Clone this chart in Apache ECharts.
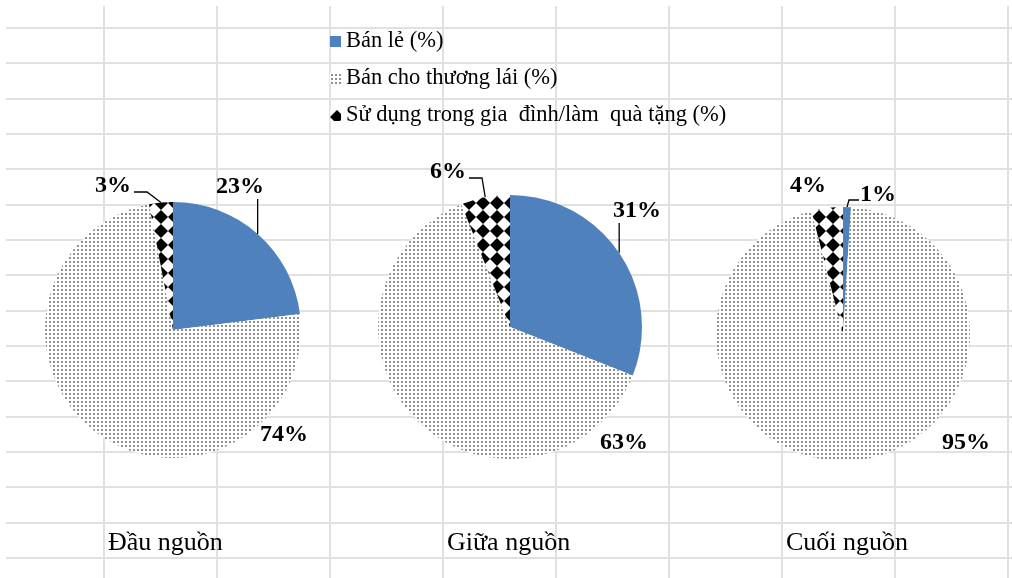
<!DOCTYPE html>
<html lang="vi">
<head>
    <meta charset="UTF-8">
    <title>Kênh tiêu thụ</title>
    <style>
        html, body { margin: 0; padding: 0; background: #fff; }
        #chart { width: 1012px; height: 578px; }
    </style>
</head>
<body>
    <div id="chart"></div>
    <script src="https://cdn.jsdelivr.net/npm/echarts@6/dist/echarts.min.js"></script>
    <script>
        // du lieu
        var categories = ['Đầu nguồn', 'Giữa nguồn', 'Cuối nguồn'];
        var seriesNames = ['Bán lẻ (%)', 'Bán cho thương lái (%)', 'Sử dụng trong gia  đình/làm  quà tặng (%)'];
        var banLe = [23, 31, 1];
        var banThuongLai = [74, 63, 95];
        var suDung = [3, 6, 4];

        // vi tri cac hinh tron
        var pieCenters = [[173, 330], [510, 327], [843, 334]];
        var pieRadius = [128, 132, 127];
        var titleLeft = [108, 447, 786];
        // vi tri nhan so voi tam hinh tron
        var labelOffsets = [
            [[67, -143], [111, 105], [-60, -144]],
            [[127, -116], [114, 116], [-62, -155]],
            [[35, -139], [123, 109], [-35, -148]]
        ];
        // kieu duong dan: v = thang dung, l = nhan ben trai, r = nhan ben phai
        var guideType = [['v', null, 'l'], ['v', null, 'l'], ['r', null, null]];

        var serif = '"Liberation Serif", "Times New Roman", serif';

        function dotPattern() {
            var c = document.createElement('canvas');
            c.width = 4; c.height = 4;
            var ctx = c.getContext('2d');
            ctx.fillStyle = '#fff';
            ctx.fillRect(0, 0, 4, 4);
            ctx.fillStyle = '#000';
            ctx.beginPath();
            ctx.arc(2, 2, 0.8, 0, Math.PI * 2);
            ctx.fill();
            return c;
        }
        function diamondPattern() {
            var c = document.createElement('canvas');
            c.width = 14; c.height = 14;
            var ctx = c.getContext('2d');
            ctx.fillStyle = '#fff';
            ctx.fillRect(0, 0, 14, 14);
            ctx.fillStyle = '#000';
            ctx.beginPath();
            ctx.moveTo(7, 0); ctx.lineTo(14, 7); ctx.lineTo(7, 14); ctx.lineTo(0, 7);
            ctx.closePath();
            ctx.fill();
            return c;
        }
        var colors = [
            '#4f81bd',
            { image: dotPattern(), repeat: 'repeat' },
            { image: diamondPattern(), repeat: 'repeat' }
        ];

        // luoi nen kieu Excel
        var gridLines = [];
        for (var k = 0; k < 16; k++) {
            var y = Math.round(28 + k * 35.33);
            gridLines.push({
                type: 'line', silent: true, z: -10,
                shape: { x1: 6, y1: y, x2: 1012, y2: y },
                style: { stroke: '#e1e1e1', lineWidth: 2 }
            });
        }
        for (var k = 0; k < 9; k++) {
            var x = 104 + k * 113;
            gridLines.push({
                type: 'line', silent: true, z: -10,
                shape: { x1: x, y1: 6, x2: x, y2: 578 },
                style: { stroke: '#e1e1e1', lineWidth: 2 }
            });
        }

        // diem giua cung ngoai cua lat cat
        function arcMid(si, di) {
            var vals = [banLe[si], banThuongLai[si], suDung[si]];
            var total = vals.reduce(function (a, b) { return a + b; }, 0);
            var before = 0;
            for (var j = 0; j < di; j++) before += vals[j];
            var ang = (before + vals[di] / 2) / total * Math.PI * 2; // tinh tu dinh, chieu kim dong ho
            var c = pieCenters[si], r = pieRadius[si];
            return [c[0] + r * Math.sin(ang), c[1] - r * Math.cos(ang)];
        }

        var series = categories.map(function (cat, i) {
            var values = [banLe[i], banThuongLai[i], suDung[i]];
            return {
                type: 'pie',
                name: cat,
                center: pieCenters[i],
                radius: pieRadius[i],
                startAngle: 90,
                clockwise: true,
                avoidLabelOverlap: false,
                animation: false,
                label: {
                    show: true,
                    position: 'outside',
                    formatter: '{c}%',
                    fontFamily: serif,
                    fontSize: 24,
                    fontWeight: 'bold',
                    color: '#000'
                },
                labelLine: {
                    show: true,
                    length: 6,
                    length2: 8,
                    smooth: false,
                    lineStyle: { color: '#000', width: 1.3 }
                },
                labelLayout: function (p) {
                    var si = p.seriesIndex, di = p.dataIndex;
                    var c = pieCenters[si];
                    var off = labelOffsets[si][di];
                    var lx = c[0] + off[0], ly = c[1] + off[1];
                    var res = { x: lx, y: ly, align: 'center', verticalAlign: 'middle' };
                    var t = guideType[si][di];
                    var w = p.labelRect.width;
                    var pt = arcMid(si, di);
                    if (t === 'v') {
                        res.labelLinePoints = [pt, [pt[0], ly + 12]];
                    } else if (t === 'l') {
                        var e = [lx + w / 2 + 3, ly + 6];
                        res.labelLinePoints = [pt, [e[0] + 13, e[1]], e];
                    } else if (t === 'r') {
                        var e2 = [lx - w / 2 - 1, ly + 5];
                        res.labelLinePoints = [pt, [e2[0] - 10, e2[1]], e2];
                    }
                    return res;
                },
                emphasis: { disabled: true },
                data: values.map(function (v, j) {
                    return {
                        name: seriesNames[j],
                        value: v,
                        itemStyle: { color: colors[j] },
                        labelLine: { show: guideType[i][j] !== null }
                    };
                })
            };
        });

        var myChart = echarts.init(document.getElementById('chart'));
        myChart.setOption({
            animation: false,
            graphic: { elements: gridLines },
            title: categories.map(function (c, i) {
                return {
                    text: c, left: titleLeft[i], top: 530, padding: 0,
                    textStyle: { fontFamily: serif, fontSize: 26, fontWeight: 'normal', color: '#000' }
                };
            }),
            legend: {
                orient: 'vertical',
                left: 325,
                top: 25,
                itemGap: 14,
                itemWidth: 11,
                itemHeight: 11,
                icon: 'rect',
                data: seriesNames,
                textStyle: { fontFamily: serif, fontSize: 22.5, color: '#000', lineHeight: 21 }
            },
            series: series
        });
    </script>
</body>
</html>
